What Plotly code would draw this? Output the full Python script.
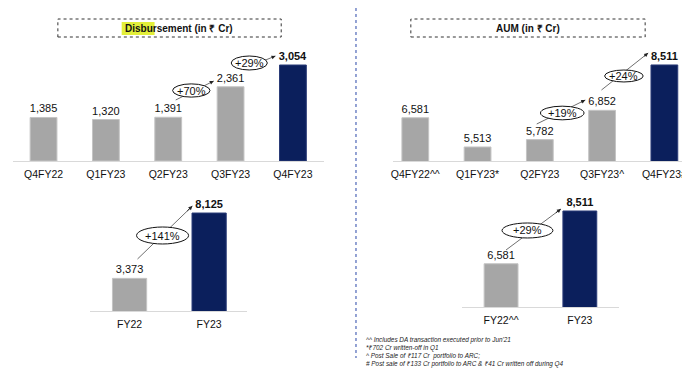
import plotly.graph_objects as go

W, H = 690, 382
FONT = "Arial, Liberation Sans, sans-serif"
GREY = "#a6a6a6"
NAVY = "#0b1f5c"

# ---------------- data ----------------
disb_q_cats = ["Q4FY22", "Q1FY23", "Q2FY23", "Q3FY23", "Q4FY23"]
disb_q_vals = [1385, 1320, 1391, 2361, 3054]
aum_q_cats = ["Q4FY22^^", "Q1FY23*", "Q2FY23", "Q3FY23^", "Q4FY23#"]
aum_q_vals = [6581, 5513, 5782, 6852, 8511]
disb_y_cats = ["FY22", "FY23"]
disb_y_vals = [3373, 8125]
aum_y_cats = ["FY22^^", "FY23"]
aum_y_vals = [6581, 8511]

disb_q_growth = ["+70%", "+29%"]
aum_q_growth = ["+19%", "+24%"]
disb_y_growth = ["+141%"]
aum_y_growth = ["+29%"]

footnotes = [
    "^^ Includes DA transaction executed prior to Jun'21",
    "*₹702 Cr written-off in Q1",
    "^ Post Sale of ₹117 Cr  portfolio to ARC;",
    "# Post sale of ₹133 Cr portfolio to ARC & ₹41 Cr written off during Q4",
]


def fx(px):
    return px / W


def fy(py):
    return 1 - py / H


def labels(vals):
    out = [f"{v:,}" for v in vals]
    out[-1] = f"<b>{out[-1]}</b>"
    return out


def colors(n):
    return [GREY] * (n - 1) + [NAVY]


def edges(n):
    return ["#c4c4c4"] * (n - 1) + ["#2b3c78"]


fig = go.Figure()
panels = [
    (disb_q_cats, disb_q_vals, "x", "y"),
    (aum_q_cats, aum_q_vals, "x2", "y2"),
    (disb_y_cats, disb_y_vals, "x3", "y3"),
    (aum_y_cats, aum_y_vals, "x4", "y4"),
]
for cats, vals, xa, ya in panels:
    n = len(vals)
    fig.add_trace(go.Bar(
        x=cats, y=vals, xaxis=xa, yaxis=ya, width=0.43,
        marker=dict(color=colors(n), line=dict(color=edges(n), width=1)),
        text=labels(vals), textposition="outside", cliponaxis=False,
        constraintext="none",
        textfont=dict(family=FONT, size=11, color="#111111"),
        hoverinfo="skip", showlegend=False,
    ))

xcommon = dict(type="category", showgrid=False, zeroline=False, showline=True,
               linecolor="#d9d9d9", linewidth=1, ticks="", fixedrange=True,
               ticklabelstandoff=3,
               tickfont=dict(family=FONT, size=10.5, color="#111111"))
ycommon = dict(visible=False, showgrid=False, zeroline=False, fixedrange=True)

layout_axes = dict(
    xaxis=dict(xcommon, domain=[fx(3), fx(315)], range=[-0.49, 4.5], anchor="y"),
    yaxis=dict(ycommon, domain=[fy(153), fy(35)], range=[0, 3754], anchor="x"),
    xaxis2=dict(xcommon, domain=[fx(384), fx(685)], range=[-0.36, 4.46], anchor="y2"),
    yaxis2=dict(ycommon, domain=[fy(153), fy(35)], range=[5000, 9314], anchor="x2"),
    xaxis3=dict(xcommon, domain=[fx(80), fx(238)], range=[-0.5, 1.48], anchor="y3"),
    yaxis3=dict(ycommon, domain=[fy(303), fy(190)], range=[1000, 9218], anchor="x3"),
    xaxis4=dict(xcommon, domain=[fx(453), fx(611)], range=[-0.5, 1.5], anchor="y4"),
    yaxis4=dict(ycommon, domain=[fy(299), fy(190)], range=[5000, 8986], anchor="x4"),
)

shapes = []
annotations = []

# separator
shapes.append(dict(type="line", xref="paper", yref="paper", x0=fx(347), x1=fx(347),
                   y0=fy(0), y1=fy(350), line=dict(color="#2a46a8", width=1, dash="dot")))

# title boxes
shapes.append(dict(type="rect", xref="paper", yref="paper", x0=fx(48), x1=fx(272),
                   y0=fy(29), y1=fy(11), line=dict(color="#333333", width=1, dash="dot")))
shapes.append(dict(type="rect", xref="paper", yref="paper", x0=fx(402), x1=fx(637),
                   y0=fy(29), y1=fy(11), line=dict(color="#333333", width=1, dash="dot")))
shapes.append(dict(type="rect", xref="paper", yref="paper", x0=fx(112), x1=fx(145),
                   y0=fy(27), y1=fy(14), line=dict(width=0), fillcolor="#e3ef3a"))
annotations.append(dict(text="<b>Disbursement (in ₹ Cr)</b>", xref="paper", yref="paper",
                        x=fx(113), y=fy(20.5), xanchor="left", yanchor="middle", showarrow=False,
                        font=dict(family=FONT, size=10, color="#111111")))
annotations.append(dict(text="<b>AUM (in ₹ Cr)</b>", xref="paper", yref="paper",
                        x=fx(520), y=fy(20.5), xanchor="center", yanchor="middle", showarrow=False,
                        font=dict(family=FONT, size=10, color="#111111")))

# growth callouts: (label, xref, yref, center x, center y, half w, half h, tail, head)
callouts = [
    (disb_q_growth[0], "x", "y", 2.37, 2243, 0.30, 210, (2.12, 1941), (2.73, 2545)),
    (disb_q_growth[1], "x", "y", 3.30, 3118, 0.29, 222, (3.30, 3000), (3.72, 3341)),
    (aum_q_growth[0], "x2", "y2", 2.36, 6755, 0.35, 250, (1.95, 6353), (2.73, 7230)),
    (aum_q_growth[1], "x2", "y2", 3.35, 8108, 0.31, 219, (2.99, 7596), (3.74, 8949)),
    (disb_y_growth[0], "x3", "y3", 0.415, 6491, 0.327, 618, (0.10, 4782), (0.79, 8636)),
    (aum_y_growth[0], "x4", "y4", 0.335, 7798, 0.323, 274, (0.063, 7085), (0.76, 8584)),
]
for lab, xr, yr, cx, cy, hw, hh, tail, head in callouts:
    shapes.append(dict(type="line", xref=xr, yref=yr, x0=tail[0], y0=tail[1],
                       x1=head[0], y1=head[1], line=dict(color="#6f6f6f", width=1)))
    shapes.append(dict(type="circle", xref=xr, yref=yr, x0=cx - hw, x1=cx + hw,
                       y0=cy - hh, y1=cy + hh, fillcolor="white",
                       line=dict(color="#111111", width=1)))
    annotations.append(dict(text=lab, xref=xr, yref=yr, x=cx, y=cy, showarrow=False,
                            font=dict(family=FONT, size=11, color="#111111")))
    bx = head[0] - 0.12 * (head[0] - tail[0])
    by = head[1] - 0.12 * (head[1] - tail[1])
    annotations.append(dict(text="", xref=xr, yref=yr, x=head[0], y=head[1],
                            axref=xr, ayref=yr, ax=bx, ay=by, showarrow=True,
                            arrowhead=2, arrowsize=0.8, arrowwidth=1, arrowcolor="#222222"))

# footnotes
for i, line in enumerate(footnotes):
    annotations.append(dict(text=f"<i>{line}</i>", xref="paper", yref="paper",
                            x=fx(355), y=fy(332 + 7.9 * i), xanchor="left", yanchor="middle",
                            showarrow=False, font=dict(family=FONT, size=6.4, color="#222222")))

fig.update_layout(
    width=W, height=H, margin=dict(l=0, r=0, t=0, b=0),
    paper_bgcolor="white", plot_bgcolor="white",
    shapes=shapes, annotations=annotations, bargap=0.5,
    **layout_axes,
)

fig.write_html("out.html", config={"displayModeBar": False})
